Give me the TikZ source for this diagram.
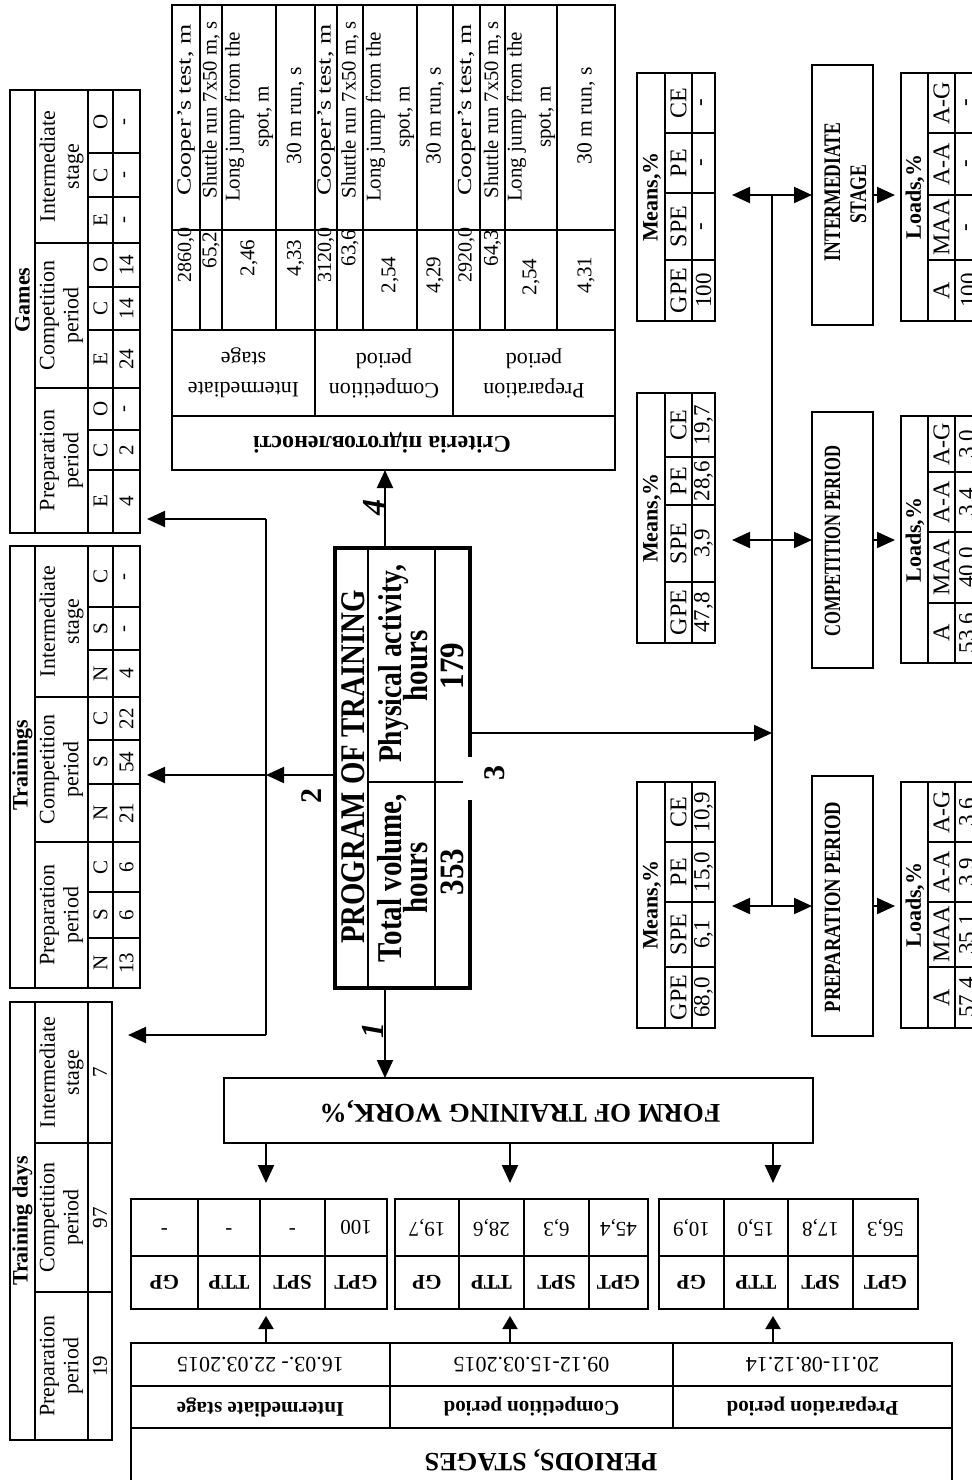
\documentclass[tikz,border=0pt]{standalone}
\usepackage{fontspec}
\usepackage{graphicx}
\setmainfont{Liberation Serif}
\usetikzlibrary{fit,arrows.meta,calc}
\newcommand{\fz}[2]{\fontsize{#1}{#2}\selectfont}
\newcommand{\vsc}[2]{\scalebox{1}[#1]{#2}}
\begin{document}
\begin{tikzpicture}[x=0.5pt,y=-0.5pt,
  tb/.style={draw,line width=1.4pt,inner sep=0pt,outer sep=0pt},
  bx/.style={draw,line width=1.1pt,inner sep=0pt,outer sep=0pt},
  gl/.style={line width=1.3pt},
  ln/.style={line width=1pt},
  ar/.style={line width=1pt,-{Triangle[length=9pt,width=8pt]}},
  ars/.style={line width=1pt,-{Triangle[length=6.5pt,width=7.5pt]}},
  tv/.style={rotate=90,inner sep=0pt,align=center,font=\fz{10.5}{12}},
  gh/.style={rotate=90,inner sep=0pt,align=center,font=\fz{11}{12}},
  tu/.style={rotate=180,inner sep=0pt,align=center,font=\fz{10.5}{12}},
  lab/.style={rotate=90,inner sep=0pt,font=\bfseries\fz{15}{15}}]
\useasboundingbox (0,0) rectangle (972,1480);
\clip (0,0) rectangle (972,1480);

% ---------- Games ----------
\node[tb,fit={(10,90) (140,533)}] (games) {};
\draw[gl] (35,90)--(35,533) (88,90)--(88,533) (113,90)--(113,533)
 (35,243)--(140,243) (35,388)--(140,388)
 (88,153)--(140,153) (88,197)--(140,197) (88,287)--(140,287) (88,330)--(140,330) (88,430)--(140,430) (88,470)--(140,470);
\node[tv,font=\bfseries\fz{11}{12}] at (22.5,300) {Games};
\node[gh] at (61.5,460.5) {Preparation\\period};
\node[gh] at (61.5,315.5) {Competition\\period};
\node[gh] at (61.5,166.5) {Intermediate\\stage};
\foreach \y/\l/\v in {501.5/E/4,450/C/2,409/O/-,359/E/24,308.5/C/14,265/O/14,220/E/-,175/C/-,121.5/O/-}
 {\node[tv] at (100.5,\y) {\l}; \node[tv] at (126.5,\y) {\v};}

% ---------- Trainings ----------
\node[tb,fit={(10,546) (140,988)}] (trn) {};
\draw[gl] (35,546)--(35,988) (88,546)--(88,988) (113,546)--(113,988)
 (35,697)--(140,697) (35,842)--(140,842)
 (88,607)--(140,607) (88,650)--(140,650) (88,740)--(140,740) (88,784)--(140,784) (88,892)--(140,892) (88,938)--(140,938);
\node[tv,font=\bfseries\fz{11}{12}] at (22.5,765) {Trainings};
\node[gh] at (61.5,915) {Preparation\\period};
\node[gh] at (61.5,769.5) {Competition\\period};
\node[gh] at (61.5,621.5) {Intermediate\\stage};
\foreach \y/\l/\v in {963/N/13,915/S/6,867/C/6,813/N/21,762/S/54,718.5/C/22,673.5/N/4,628.5/S/-,576.5/C/-}
 {\node[tv] at (100.5,\y) {\l}; \node[tv] at (126.5,\y) {\v};}

% ---------- Training days ----------
\node[tb,fit={(10,1002) (112,1440)}] (tdays) {};
\draw[gl] (35,1002)--(35,1440) (88,1002)--(88,1440) (35,1143)--(112,1143) (35,1292)--(112,1292);
\node[tv,font=\bfseries\fz{11}{12}] at (22.5,1221) {Training days};
\node[gh] at (61.5,1366) {Preparation\\period}; \node[tv] at (100,1366) {19};
\node[gh] at (61.5,1217.5) {Competition\\period}; \node[tv] at (100,1217.5) {97};
\node[gh] at (61.5,1072.5) {Intermediate\\stage}; \node[tv] at (100,1072.5) {7};

% ---------- Criteria ----------
\node[tb,fit={(172,5) (615,470)}] (crit) {};
\draw[gl] (172,230)--(615,230) (172,330)--(615,330) (172,416)--(615,416)
 (315,330)--(315,416) (453,330)--(453,416);
\foreach \x in {200,222,276,315,337,363,417,453,480,505,557} {\draw[gl] (\x,5)--(\x,330);}
\foreach \x in {186,326,466.5} {\node[tv,font=\fz{10}{12}] at (\x,110) {\scalebox{1.3}[1]{Cooper's test, m}};}
\foreach \x in {211,350,492.5} {\node[tv,font=\fz{10.3}{12}] at (\x,110) {Shuttle run 7x50 m, s};}
\foreach \x in {249,390,531} {\node[tv,font=\fz{10.5}{14.5}] at (\x,117) {Long jump from the\\spot, m};}
\foreach \x in {295.5,435,586} {\node[tv,font=\fz{10.8}{12}] at (\x,116) {30 m run, s};}
\node[tv,font=\fz{10}{10}] at (186,255) {2860,0};
\node[tv,font=\fz{10.5}{10}] at (211,250) {65,2};
\node[tv] at (249,258) {2,46};
\node[tv] at (295.5,258) {4,33};
\node[tv,font=\fz{10}{10}] at (326,255) {3120,0};
\node[tv,font=\fz{10.5}{10}] at (350,248) {63,6};
\node[tv] at (390,275) {2,54};
\node[tv] at (435,275) {4,29};
\node[tv,font=\fz{10}{10}] at (466.5,255) {2920,0};
\node[tv,font=\fz{10.5}{10}] at (492.5,248) {64,3};
\node[tv] at (531,277) {2,54};
\node[tv] at (586,275) {4,31};
\node[tu,font=\fz{11}{15}] at (243.5,373) {Intermediate\\stage};
\node[tu,font=\fz{11}{15}] at (384,373) {Competition\\period};
\node[tu,font=\fz{11}{15}] at (534,373) {Preparation\\period};
\node[tu,font=\bfseries\fz{12}{12}] at (382,443) {Criteria підготовленості};

% ---------- Means ----------
\node[tb,fit={(637,73) (715,321)}] (m1) {};
\node[tb,fit={(637,393) (715,643)}] (m2) {};
\node[tb,fit={(637,782) (715,1028)}] (m3) {};
\draw[gl] (665,73)--(665,321) (692,73)--(692,321) (665,133)--(715,133) (665,193)--(715,193) (665,260)--(715,260);
\draw[gl] (665,393)--(665,643) (692,393)--(692,643) (665,457)--(715,457) (665,505)--(715,505) (665,582)--(715,582);
\draw[gl] (665,782)--(665,1028) (692,782)--(692,1028) (665,842)--(715,842) (665,902)--(715,902) (665,967)--(715,967);
\node[tv,font=\bfseries\fz{11}{12}] at (652,197) {Means,\%};
\node[tv,font=\bfseries\fz{11}{12}] at (652,518) {Means,\%};
\node[tv,font=\bfseries\fz{11}{12}] at (652,905) {Means,\%};
\foreach \y/\l/\v in {290.5/GPE/100,226.5/SPE/-,163/PE/-,103/CE/-,
   612.5/GPE/{47,8},543.5/SPE/{3,9},481/PE/{28,6},425/CE/{19,7},
   997.5/GPE/{68,0},934.5/SPE/{6,1},872/PE/{15,0},812/CE/{10,9}}
 {\node[tv,font=\fz{12}{12}] at (678.5,\y) {\l}; \node[tv,font=\fz{11.5}{12}] at (703.5,\y) {\v};}

% ---------- Phase boxes ----------
\node[bx,fit={(812,65) (873,325)}] (ph1) {};
\node[bx,fit={(812,412) (873,668)}] (ph2) {};
\node[bx,fit={(812,776) (873,1036)}] (ph3) {};
\node[tv,anchor=base,font=\bfseries\fz{8.8}{9}] at (840,192) {\vsc{1.35}{INTERMEDIATE}};
\node[tv,anchor=base,font=\bfseries\fz{8.8}{9}] at (866,194) {\vsc{1.35}{STAGE}};
\node[tv,anchor=base,font=\bfseries\fz{8.3}{9}] at (840,541) {\vsc{1.4}{COMPETITION PERIOD}};
\node[tv,anchor=base,font=\bfseries\fz{9.3}{9}] at (840,907) {\vsc{1.25}{PREPARATION PERIOD}};

% ---------- Loads ----------
\node[tb,fit={(901,73) (990,321)}] (l1) {};
\node[tb,fit={(901,416) (990,663)}] (l2) {};
\node[tb,fit={(901,782) (990,1028)}] (l3) {};
\draw[gl] (928,73)--(928,321) (955,73)--(955,321) (928,133)--(990,133) (928,195)--(990,195) (928,260)--(990,260);
\draw[gl] (928,416)--(928,663) (955,416)--(955,663) (928,472)--(990,472) (928,532)--(990,532) (928,603)--(990,603);
\draw[gl] (928,782)--(928,1028) (955,782)--(955,1028) (928,842)--(990,842) (928,902)--(990,902) (928,967)--(990,967);
\node[tv,font=\bfseries\fz{11}{12}] at (915,197) {Loads,\%};
\node[tv,font=\bfseries\fz{11}{12}] at (915,540) {Loads,\%};
\node[tv,font=\bfseries\fz{11}{12}] at (915,905) {Loads,\%};
\foreach \y/\l/\v in {290.5/A/100,227.5/MAA/-,164/A-A/-,103/A-G/-,
   633/A/{53,6},567.5/MAA/{40,0},502/A-A/{3,4},444/A-G/{3,0},
   997.5/A/{57,4},934.5/MAA/{35,1},872/A-A/{3,9},812/A-G/{3,6}}
 {\node[tv,font=\fz{12}{12}] at (941.5,\y) {\l}; \node[tv,font=\fz{11.5}{12}] at (968.5,\y) {\v};}

% ---------- Program ----------
\node[draw,line width=1.8pt,inner sep=0pt,outer sep=0pt,fit={(335,548) (470,988)}] (prog) {};
\draw[line width=1.4pt] (368,548)--(368,988) (435,548)--(435,988) (368,782)--(466,782);
\fill[white] (463,757) rectangle (480,800);
\node[tv,anchor=base,font=\bfseries\fz{14.4}{15}] at (364,767) {\vsc{1.2}{PROGRAM OF TRAINING}};
\node[tv,anchor=base,font=\bfseries\fz{14.5}{15}] at (401,878) {\vsc{1.2}{Total volume,}};
\node[tv,anchor=base,font=\bfseries\fz{14.5}{15}] at (427,878) {\vsc{1.2}{hours}};
\node[tv,anchor=base,font=\bfseries\fz{13.8}{15}] at (401,664) {\vsc{1.2}{Physical activity,}};
\node[tv,anchor=base,font=\bfseries\fz{14.5}{15}] at (427,666) {\vsc{1.2}{hours}};
\node[tv,anchor=base,font=\bfseries\fz{15.5}{16}] at (463,872) {\vsc{1.1}{353}};
\node[tv,anchor=base,font=\bfseries\fz{15.5}{16}] at (463,666) {\vsc{1.1}{179}};

% ---------- Form ----------
\node[bx,fit={(224,1078) (813,1143)}] (form) {};
\node[tu,font=\bfseries\fz{13.5}{14}] at (520,1111) {FORM OF TRAINING WORK,\%};

% ---------- GPT tables ----------
\node[tb,fit={(131,1199) (387,1309)}] (g3) {};
\node[tb,fit={(395,1199) (648,1309)}] (g2) {};
\node[tb,fit={(659,1199) (918,1309)}] (g1) {};
\draw[gl] (131,1256)--(387,1256) (198,1199)--(198,1309) (260,1199)--(260,1309) (325,1199)--(325,1309);
\draw[gl] (395,1256)--(648,1256) (459,1199)--(459,1309) (524,1199)--(524,1309) (589,1199)--(589,1309);
\draw[gl] (659,1256)--(918,1256) (724,1199)--(724,1309) (788,1199)--(788,1309) (853,1199)--(853,1309);
\foreach \x/\l/\v in {164.5/GP/-,229/TTP/-,292.5/SPT/-,356/GPT/100,
   427/GP/{19,7},491.5/TTP/{28,6},556.5/SPT/{6,3},618.5/GPT/{45,4},
   691.5/GP/{10,9},756/TTP/{15,0},820.5/SPT/{17,8},885.5/GPT/{56,3}}
 {\node[tu,font=\bfseries\fz{10.5}{12}] at (\x,1282.5) {\l}; \node[tu] at (\x,1227.5) {\v};}

% ---------- Periods ----------
\node[tb,fit={(131,1343) (952,1495)}] (per) {};
\draw[gl] (131,1386)--(952,1386) (131,1428)--(952,1428) (390,1343)--(390,1428) (673,1343)--(673,1428);
\node[tu,font=\fz{11}{12}] at (260.5,1364.5) {16.03.- 22.03.2015};
\node[tu,font=\fz{11}{12}] at (531.5,1364.5) {09.12-15.03.2015};
\node[tu,font=\fz{11}{12}] at (812.5,1364.5) {20.11-08.12.14};
\node[tu,font=\bfseries\fz{10.5}{12}] at (260.5,1407) {Intermediate stage};
\node[tu,font=\bfseries\fz{10.5}{12}] at (531.5,1407) {Competition period};
\node[tu,font=\bfseries\fz{10.5}{12}] at (812.5,1407) {Preparation period};
\node[tu,font=\bfseries\fz{13.2}{14}] at (541,1460) {PERIODS, STAGES};

% ---------- Connectors ----------
\coordinate (p1) at (385,988);
\coordinate (p4) at (385,548);
\draw[ar] (p1) -- (p1 |- form.north);
\draw[ar] (p4) -- (p4 |- crit.south);

\coordinate (b2t) at (266,519);
\coordinate (b2m) at (266,775);
\coordinate (b2b) at (266,1035);
\draw[ln] (b2t) -- (b2b);
\draw[ar] (prog.west |- b2m) -- (b2m);
\draw[ar,shorten >=3.5pt] (b2t) -- (b2t -| games.east);
\draw[ar,shorten >=3.5pt] (b2m) -- (b2m -| trn.east);
\draw[ar,shorten >=8pt] (b2b) -- (b2b -| tdays.east);

\coordinate (b3m) at (772,733);
\coordinate (b3t) at (ph1 -| b3m);
\coordinate (b3c) at (ph2 -| b3m);
\coordinate (b3b) at (ph3 -| b3m);
\draw[ln] (b3t) -- (b3b);
\draw[ar] (prog.east |- b3m) -- (b3m);
\foreach \p/\m/\h/\l in {b3t/m1/ph1/l1,b3c/m2/ph2/l2,b3b/m3/ph3/l3} {
  \draw[ar,shorten >=8.5pt] (\p) -- (\p -| \m.east);
  \draw[ar] (\p) -- (\p -| \h.west);
  \draw[ar,shorten >=3pt] (\h.east) -- (\h.east -| \l.west);
}

\coordinate (xa) at (266,0);
\coordinate (xb) at (510,0);
\coordinate (xc) at (773,0);
\foreach \c/\g in {xa/g3,xb/g2,xc/g1} {
  \draw[ar,shorten >=8pt] (form.south -| \c) -- (\g.north -| \c);
  \draw[ars,shorten >=3.5pt] (per.north -| \c) -- (\g.south -| \c);
}

% ---------- Labels ----------
\node[lab,font=\bfseries\itshape\fz{16}{16}] at (373,1030) {1};
\node[lab,font=\bfseries\itshape\fz{16}{16}] at (374,507) {4};
\node[lab] at (312,796) {2};
\node[lab] at (495,773) {3};
\end{tikzpicture}
\end{document}
